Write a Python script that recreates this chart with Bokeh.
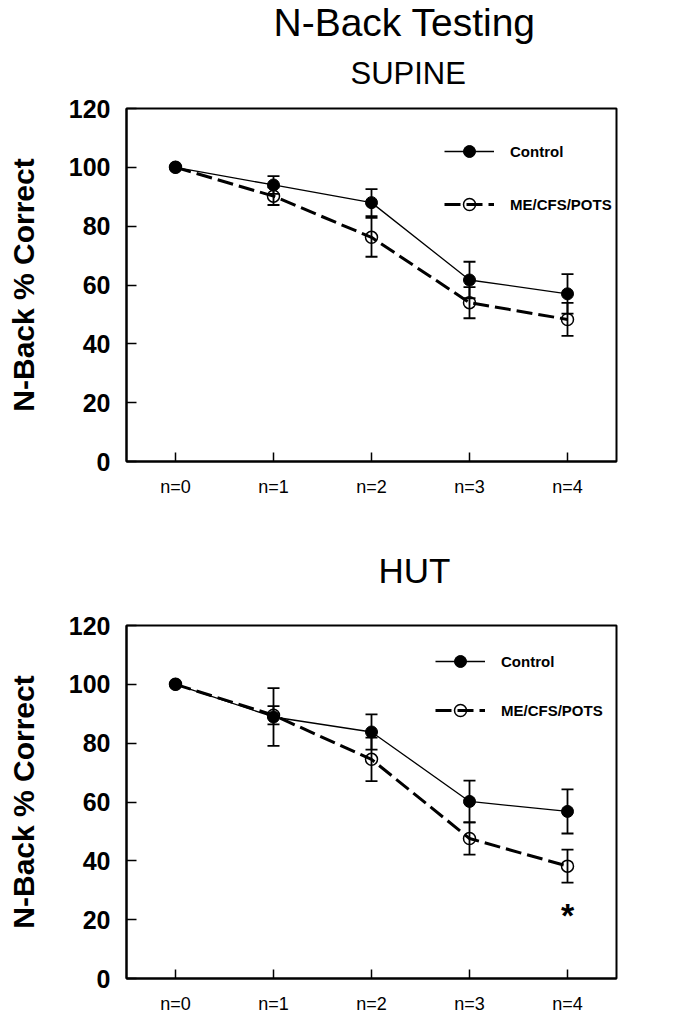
from bokeh.plotting import figure
from bokeh.models import (FactorRange, Range1d, FixedTicker, Whisker, TeeHead,
                          ColumnDataSource, Legend, LegendItem, Title)
from bokeh.layouts import column
from bokeh.embed import file_html
from bokeh.resources import INLINE
from bokeh.core.properties import value

# ---------------- data ----------------
categories = ["n=0", "n=1", "n=2", "n=3", "n=4"]
y_ticks = [0, 20, 40, 60, 80, 100, 120]

supine_control = [100, 94, 88, 61.7, 57]
supine_control_err = [0, 3, 4.6, 6.2, 6.7]
supine_me = [100, 90.2, 76.2, 54, 48.3]
supine_me_err = [0, 3, 6.6, 5.3, 5.6]

hut_control = [100, 88.9, 83.8, 60.2, 56.8]
hut_control_err = [0, 9.8, 6, 7.1, 7.5]
hut_me = [100, 89.5, 74.5, 47.6, 38.2]
hut_me_err = [0, 3.1, 7.4, 5.5, 5.6]

hut_sig_x = ["n=4"]
hut_sig_y = [24]

series_names = ["Control", "ME/CFS/POTS"]

FONT = "Liberation Sans"


def whisker_source(vals, errs):
    xs, up, lo = [], [], []
    for c, v, e in zip(categories, vals, errs):
        if e > 0:
            xs.append(c)
            up.append(v + e)
            lo.append(v - e)
    return ColumnDataSource(dict(x=xs, upper=up, lower=lo))


def make_panel(height, top, bottom, sub, sub_offset, sub_size, sub_standoff,
               control, cerr, me, merr, legend_loc, legend_spacing):
    p = figure(width=690, height=height,
               x_range=FactorRange(*categories, range_padding=0),
               y_range=Range1d(0, 120),
               output_backend="svg", toolbar_location=None, title=None,
               min_border_left=126, min_border_right=74,
               min_border_top=top, min_border_bottom=bottom)
    p.background_fill_color = "white"
    p.border_fill_color = "white"
    p.outline_line_color = "black"
    p.outline_line_width = 2
    p.xgrid.grid_line_color = None
    p.ygrid.grid_line_color = None

    # x axis
    p.xaxis.major_tick_in = 9
    p.xaxis.major_tick_out = 0
    p.xaxis.axis_line_width = 2
    p.xaxis.major_tick_line_width = 1.5
    p.xaxis.major_label_text_font = FONT
    p.xaxis.major_label_text_font_size = "18px"
    p.xaxis.major_label_text_color = "black"
    p.xaxis.major_label_standoff = 15

    # y axis
    p.yaxis.ticker = FixedTicker(ticks=y_ticks)
    p.yaxis.minor_tick_line_color = None
    p.yaxis.major_tick_in = 10
    p.yaxis.major_tick_out = 0
    p.yaxis.axis_line_width = 2
    p.yaxis.major_tick_line_width = 1.5
    p.yaxis.major_label_text_font = FONT
    p.yaxis.major_label_text_font_size = "25px"
    p.yaxis.major_label_text_font_style = "bold"
    p.yaxis.major_label_text_color = "black"
    p.yaxis.major_label_standoff = 16
    p.yaxis.axis_label = "N-Back % Correct"
    p.yaxis.axis_label_text_font = FONT
    p.yaxis.axis_label_text_font_size = "30px"
    p.yaxis.axis_label_text_font_style = "bold"
    p.yaxis.axis_label_text_color = "black"
    p.yaxis.axis_label_standoff = 26

    # subtitle (closest to the frame)
    p.add_layout(Title(text=sub, align="left", offset=sub_offset,
                       text_font=FONT, text_font_size=sub_size,
                       text_font_style="normal", text_color="black",
                       standoff=sub_standoff), "above")

    # error bars
    for vals, errs in ((control, cerr), (me, merr)):
        w = Whisker(base="x", upper="upper", lower="lower",
                    source=whisker_source(vals, errs),
                    line_color="black", line_width=1.8, level="underlay",
                    upper_head=TeeHead(size=12, line_width=1.8, line_color="black"),
                    lower_head=TeeHead(size=12, line_width=1.8, line_color="black"))
        p.add_layout(w)

    src_c = ColumnDataSource(dict(x=categories, y=control))
    src_m = ColumnDataSource(dict(x=categories, y=me))
    r1 = p.line("x", "y", source=src_c, line_color="black", line_width=1.3)
    r2 = p.scatter("x", "y", source=src_c, marker="circle", size=12,
                   fill_color="black", line_color="black")
    r3 = p.line("x", "y", source=src_m, line_color="black", line_width=3,
                line_dash="16 6")
    r4 = p.scatter("x", "y", source=src_m, marker="circle", size=12,
                   fill_color=None, line_color="black", line_width=1.5)

    legend = Legend(items=[LegendItem(label=series_names[0], renderers=[r1, r2]),
                           LegendItem(label=series_names[1], renderers=[r3, r4])],
                    location=legend_loc, glyph_width=50, glyph_height=30,
                    label_standoff=16, spacing=legend_spacing, padding=0,
                    margin=0, border_line_alpha=0, background_fill_alpha=0,
                    label_text_font=FONT, label_text_font_size="15px",
                    label_text_font_style="bold", label_text_color="black")
    p.add_layout(legend)
    return p


p1 = make_panel(512, 108, 51, "SUPINE", 224, "31px", 36,
                supine_control, supine_control_err, supine_me, supine_me_err,
                (318, 242), 23)
# main title, stacked above the subtitle
p1.add_layout(Title(text="N-Back Testing", align="left", offset=147,
                    text_font=FONT, text_font_size="39px",
                    text_font_style="normal", text_color="black",
                    standoff=-17), "above")

p2 = make_panel(504, 113, 38, "HUT", 252, "35px", 71,
                hut_control, hut_control_err, hut_me, hut_me_err,
                (309, 253), 19)
p2.text(x=hut_sig_x, y=hut_sig_y, text=["*"], text_align="center",
        text_baseline="middle", text_font=value(FONT), text_font_size="34px",
        text_font_style="bold", text_color="black", y_offset=7)

layout = column(p1, p2)
open("out.html", "w").write(file_html(layout, INLINE))
